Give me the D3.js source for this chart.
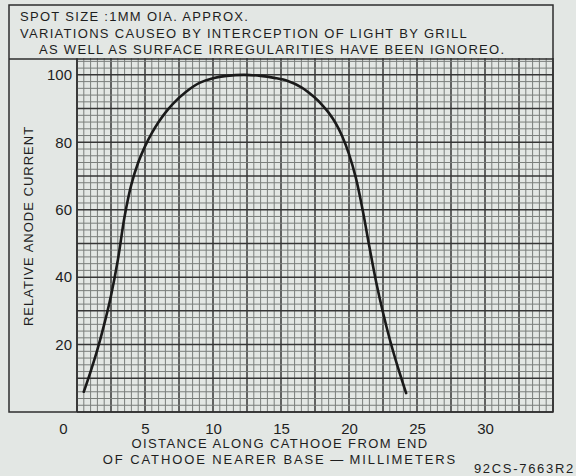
<!DOCTYPE html>
<html>
<head>
<meta charset="utf-8">
<script src="https://cdn.jsdelivr.net/npm/d3@7"></script>
<style>
  body { margin: 0; background: #e3e7e4; }
  svg { display: block; }
  text { font-family: "Liberation Sans", Arial, sans-serif; fill: #1e1e1e; }
</style>
</head>
<body>
<div id="chart"></div>
<script>
// header notes
var noteLines = [
	"SPOT SIZE :1MM OIA. APPROX.",
	"VARIATIONS CAUSEO BY INTERCEPTION OF LIGHT BY GRILL",
	"AS WELL AS SURFACE IRREGULARITIES HAVE BEEN IGNOREO."
];
var xTitle = ["OISTANCE ALONG CATHOOE FROM END", "OF CATHOOE NEARER BASE\u2009\u2014\u2009MILLIMETERS"];
var yTitle = "RELATIVE ANODE CURRENT";
var figId = "92CS-7663R2";

// tick labels
var xTicks = [0, 5, 10, 15, 20, 25, 30];
var yTicks = [20, 40, 60, 80, 100];

// curve: distance (mm) vs relative anode current
var distance = [0.5, 1.0, 1.5, 2.0, 2.5, 3.0, 3.5, 4.0, 4.5, 5.0, 5.5, 6.0, 6.5, 7.0, 8.0, 9.0, 10.0, 11.0, 12.3,
	13.5, 14.5, 15.5, 16.5, 17.5, 18.0, 18.5, 19.0, 19.5, 20.0, 20.5, 21.0, 21.5, 22.0, 22.5, 23.0, 23.5, 24.2];
var current  = [6, 12, 18.5, 26, 34.5, 45, 58, 67.5, 74, 78.8, 82.7, 86, 88.8, 91.2, 94.9, 97.6, 99, 99.7, 100,
	99.7, 99.1, 98.2, 96.3, 93.2, 91.2, 88.8, 85.8, 81.8, 76.5, 69.5, 60, 49, 38.5, 29.5, 21.5, 14.5, 5.6];

var W = 576, H = 476;
var frame = {left: 9, right: 553, top: 5, bottom: 412, header: 59};

var svg = d3.select("#chart").append("svg")
	.attr("width", W)
	.attr("height", H);

var x = d3.scaleLinear().domain([0, 35]).range([77, frame.right]);
var y = d3.scaleLinear().domain([0, 105]).range([frame.bottom, 58]);

//grid lines
var grid = svg.append("g");
var vLines = d3.range(0, 35.01, 0.5);
var hLines = d3.range(0, 105, 2);

grid.selectAll(".vminor")
	.data(vLines)
	.enter().append("line")
	.attr("x1", function(d) { return x(d); })
	.attr("x2", function(d) { return x(d); })
	.attr("y1", y(0))
	.attr("y2", y(105))
	.attr("stroke", function(d) { return d % 2.5 === 0 ? "#363636" : "#7a7e7b"; })
	.attr("stroke-width", function(d) { return d % 2.5 === 0 ? 1.5 : 1; });

grid.selectAll(".hminor")
	.data(hLines)
	.enter().append("line")
	.attr("x1", x(0))
	.attr("x2", x(35))
	.attr("y1", function(d) { return y(d); })
	.attr("y2", function(d) { return y(d); })
	.attr("stroke", function(d) { return d % 10 === 0 ? "#363636" : "#7a7e7b"; })
	.attr("stroke-width", function(d) { return d % 10 === 0 ? 1.5 : 1; });

//frame and header box
svg.append("rect")
	.attr("x", frame.left)
	.attr("y", frame.top)
	.attr("width", frame.right - frame.left)
	.attr("height", frame.bottom - frame.top)
	.attr("fill", "none")
	.attr("stroke", "#2e2e2e")
	.attr("stroke-width", 1.5);

svg.append("line")
	.attr("x1", frame.left).attr("x2", frame.right)
	.attr("y1", frame.header).attr("y2", frame.header)
	.attr("stroke", "#2e2e2e")
	.attr("stroke-width", 1.5);

svg.append("line")
	.attr("x1", x(0)).attr("x2", x(0))
	.attr("y1", frame.header).attr("y2", frame.bottom)
	.attr("stroke", "#2e2e2e")
	.attr("stroke-width", 1.5);

//header notes
svg.selectAll(".note")
	.data(noteLines)
	.enter().append("text")
	.attr("x", function(d, i) { return i === 2 ? 39 : 20; })
	.attr("y", function(d, i) { return 21 + i * 16.5; })
	.style("font-size", "13px")
	.style("letter-spacing", "1.3px")
	.text(function(d) { return d; });

//axes
var xAxis = svg.append("g")
	.attr("transform", "translate(0," + frame.bottom + ")")
	.call(d3.axisBottom(x).tickValues(xTicks).tickSize(0).tickPadding(11).tickFormat(d3.format("d")));
xAxis.select(".domain").remove();
xAxis.selectAll("text")
	.style("font-size", "15px")
	.style("font-family", "Liberation Sans, Arial, sans-serif")
	.attr("fill", "#1e1e1e")
	.attr("dx", function(d) { return d === 0 ? -14 : 0; });

var yAxis = svg.append("g")
	.attr("transform", "translate(" + x(0) + ",0)")
	.call(d3.axisLeft(y).tickValues(yTicks).tickSize(0).tickPadding(5));
yAxis.select(".domain").remove();
yAxis.selectAll("text")
	.style("font-size", "15px")
	.style("font-family", "Liberation Sans, Arial, sans-serif")
	.attr("fill", "#1e1e1e");

//axis titles
svg.selectAll(".xtitle")
	.data(xTitle)
	.enter().append("text")
	.attr("x", 280)
	.attr("y", function(d, i) { return 448 + i * 16; })
	.attr("text-anchor", "middle")
	.style("font-size", "13px")
	.style("letter-spacing", function(d, i) { return i === 0 ? "1.4px" : "1.9px"; })
	.text(function(d) { return d; });

svg.append("text")
	.attr("transform", "translate(33,226) rotate(-90)")
	.attr("text-anchor", "middle")
	.style("font-size", "13px")
	.style("letter-spacing", "1px")
	.text(yTitle);

svg.append("text")
	.attr("x", 575)
	.attr("y", 473)
	.attr("text-anchor", "end")
	.style("font-size", "13px")
	.style("letter-spacing", "1.7px")
	.text(figId);

//curve
var pts = distance.map(function(d, i) { return [d, current[i]]; });
var line = d3.line()
	.x(function(d) { return x(d[0]); })
	.y(function(d) { return y(d[1]); })
	.curve(d3.curveCatmullRom.alpha(0.5));

svg.append("path")
	.datum(pts)
	.attr("d", line)
	.attr("fill", "none")
	.attr("stroke", "#1a1a1a")
	.attr("stroke-width", 2.6)
	.attr("stroke-linecap", "round");
</script>
</body>
</html>
